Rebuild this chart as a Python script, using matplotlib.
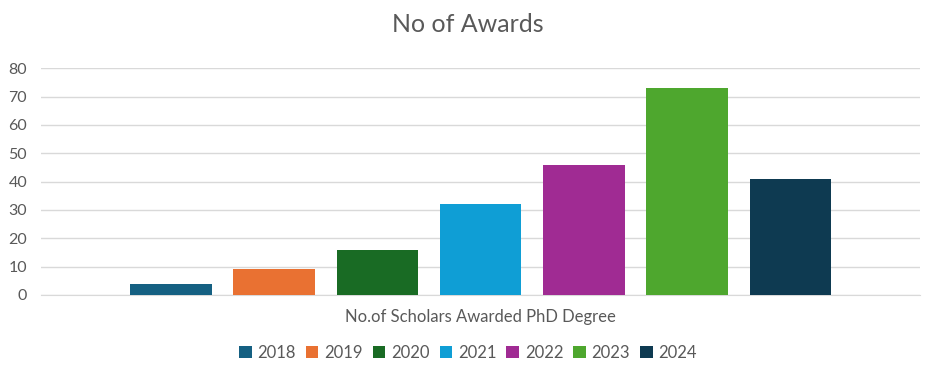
import matplotlib
matplotlib.use("Agg")
import matplotlib.pyplot as plt
from matplotlib.patches import Patch

years = ["2018", "2019", "2020", "2021", "2022", "2023", "2024"]
values = [4, 9, 16, 32, 46, 73, 41]
colors = ["#156082", "#E97132", "#196B24", "#0F9ED5", "#A02B93", "#4EA72E", "#0E3A51"]
category = "No.of Scholars Awarded PhD Degree"
title = "No of Awards"
yticks = [0, 10, 20, 30, 40, 50, 60, 70, 80]

plt.rcParams['font.family'] = ['Lato', 'DejaVu Sans']
txt = "#595959"

fig = plt.figure(figsize=(9.36, 3.81), dpi=100)
ax = fig.add_axes([41/936, 86/381, (920-41)/936, (295-68.3)/381])

xs = list(range(len(years)))
ax.bar(xs, values, width=0.79, color=colors, zorder=3)
ax.set_xlim(-1.258, 7.254)
ax.set_ylim(0, 80)
ax.set_yticks(yticks)
ax.set_yticklabels([str(t) for t in yticks], color=txt, fontsize=11.5)
ax.tick_params(axis='y', length=0, pad=10)
ax.set_xticks([])
ax.grid(axis='y', color='#d9d9d9', linewidth=1, zorder=0)
for s in ['top', 'right', 'left']:
    ax.spines[s].set_visible(False)
ax.spines['bottom'].set_color('#d9d9d9')
ax.set_xlabel(category, color=txt, fontsize=12, labelpad=10)

fig.text(0.5, 1 - 25/381, title, ha='center', va='center', fontsize=18, color=txt)

handles = [Patch(facecolor=c, edgecolor='none') for c in colors]
fig.legend(handles, years, loc='center', bbox_to_anchor=(0.5, 1 - 353/381), ncol=7,
           frameon=False, fontsize=12, labelcolor=txt, handlelength=0.75, handleheight=0.75,
           handletextpad=0.35, columnspacing=0.6)

fig.savefig("out.png", dpi=100)
